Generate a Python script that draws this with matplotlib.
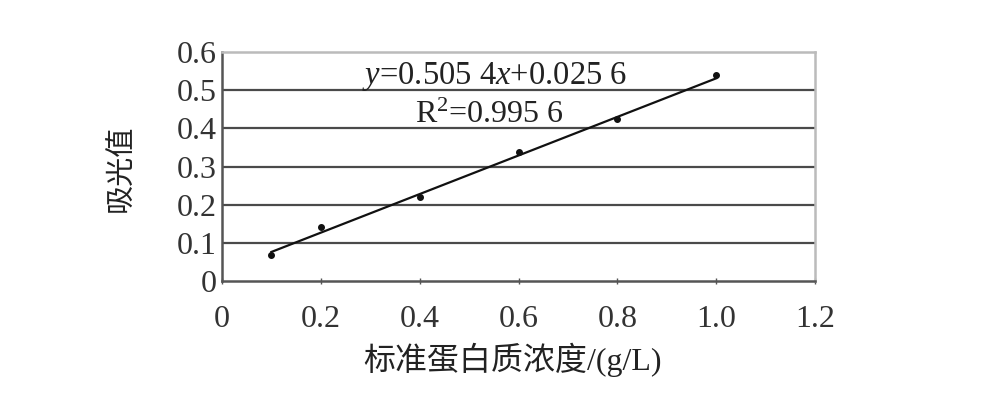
import matplotlib.pyplot as plt
import numpy as np

# 标准曲线数据
conc = [0.1, 0.2, 0.4, 0.6, 0.8, 1.0]
absorb = [0.068, 0.142, 0.221, 0.337, 0.424, 0.540]
slope = 0.5054
intercept = 0.0256
xticks = [0, 0.2, 0.4, 0.6, 0.8, 1.0, 1.2]
xlabels = ['0', '0.2', '0.4', '0.6', '0.8', '1.0', '1.2']
yticks = [0, 0.1, 0.2, 0.3, 0.4, 0.5, 0.6]
ylabels = ['0', '0.1', '0.2', '0.3', '0.4', '0.5', '0.6']

plt.rcParams['font.family'] = ['Liberation Serif', 'Noto Sans CJK SC']
plt.rcParams['mathtext.fontset'] = 'custom'
plt.rcParams['mathtext.rm'] = 'Liberation Serif'
plt.rcParams['mathtext.it'] = 'Liberation Serif:italic'

fig = plt.figure(figsize=(9.82, 3.96), dpi=100)
ax = fig.add_axes([222 / 982, 1 - 281 / 396, 593 / 982, 229 / 396])

for yv in yticks[1:-1]:
    ax.axhline(yv, color='#4a4a4a', lw=1.6, zorder=1)

xs = np.array([conc[0], conc[-1]])
ax.plot(xs, slope * xs + intercept, color='#111111', lw=1.6, zorder=2)
ax.plot(conc, absorb, 'o', color='#111111', ms=4, zorder=3)

ax.set_xlim(0, 1.2)
ax.set_ylim(0, 0.6)
ax.set_xticks(xticks)
ax.set_xticklabels(xlabels)
ax.set_yticks(yticks)
ax.set_yticklabels(ylabels)
ax.tick_params(axis='x', direction='inout', length=5, width=1, color='#555555',
               labelsize=23, pad=15, labelcolor='#333333')
ax.tick_params(axis='y', length=0, labelsize=23, pad=4, labelcolor='#333333')

for s in ['left', 'bottom']:
    ax.spines[s].set_color('#555555')
    ax.spines[s].set_linewidth(1.8)
for s in ['top', 'right']:
    ax.spines[s].set_color('#bbbbbb')
    ax.spines[s].set_linewidth(1.8)

ax.text(0.552, 0.535, r'$y$=0.505 4$x$+0.025 6', ha='center', va='center',
        fontsize=23.5, color='#222222')
ax.text(0.54, 0.433, r'R$^2$=0.995 6', ha='center', va='center',
        fontsize=23, color='#222222')

fig.text(122 / 982, 1 - 168 / 396, '吸光值', rotation=90, ha='center', va='center',
         fontsize=21, color='#222222')
fig.text(513 / 982, 1 - 360 / 396, '标准蛋白质浓度/(g/L)', ha='center', va='center',
         fontsize=23, color='#222222')

fig.savefig('out.png', dpi=100, facecolor='white')
